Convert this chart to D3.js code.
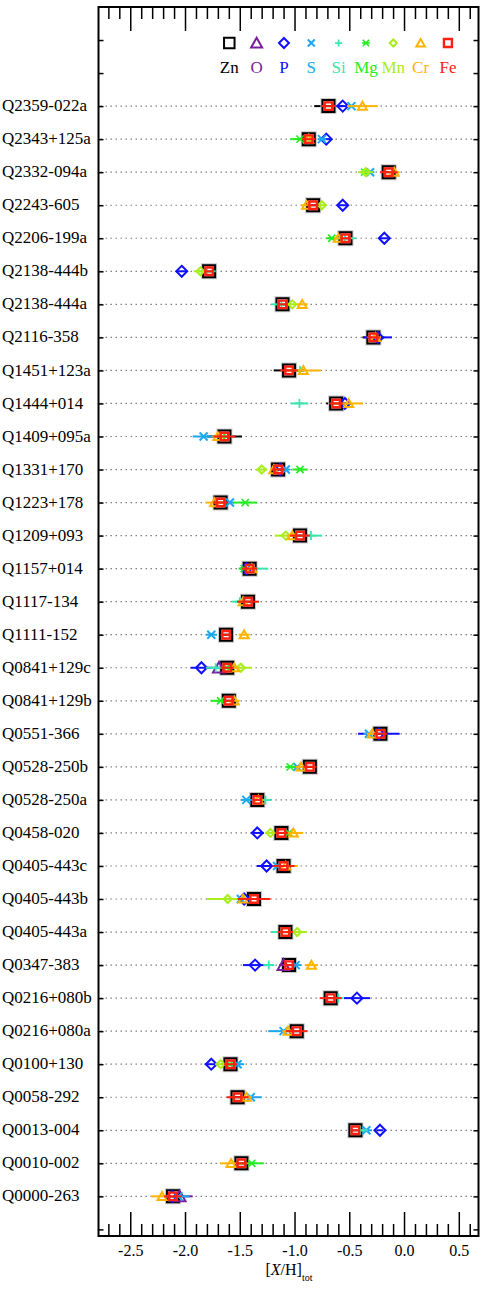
<!DOCTYPE html>
<html>
<head>
<meta charset="utf-8">
<script src="https://cdn.jsdelivr.net/npm/d3@7"></script>
<style>
  body { margin: 0; background: #fff; }
  svg { display: block; font-family: "Liberation Serif", "Times New Roman", serif; }
</style>
</head>
<body>
<div id="chart"></div>
<script>
var _ = null;

var qsos = ["Q2359-022a","Q2343+125a","Q2332-094a","Q2243-605","Q2206-199a","Q2138-444b",
  "Q2138-444a","Q2116-358","Q1451+123a","Q1444+014","Q1409+095a","Q1331+170","Q1223+178",
  "Q1209+093","Q1157+014","Q1117-134","Q1111-152","Q0841+129c","Q0841+129b","Q0551-366",
  "Q0528-250b","Q0528-250a","Q0458-020","Q0405-443c","Q0405-443b","Q0405-443a","Q0347-383",
  "Q0216+080b","Q0216+080a","Q0100+130","Q0058-292","Q0013-004","Q0010-002","Q0000-263"];

var elements = ["Zn","O","P","S","Si","Mg","Mn","Cr","Fe"];
var colors   = ["#000000","#7a1e9e","#1010ff","#1aa8f0","#38e6b0","#22ee22","#a8ee1a","#ffb400","#ff2010"];

var xTicksMajor = [-2.5,-2.0,-1.5,-1.0,-0.5,0.0,0.5];

// [X/H]_tot per sightline (null = not measured)
var zn    = [-0.69,-0.87,-0.14,-0.83,-0.535,-1.78,-1.11,-0.28,-1.05,-0.62,-1.64,-1.15,-1.675,-0.95,-1.41,-1.425,-1.625,
             -1.615,-1.60,-0.216,-0.86,-1.34,-1.12,-1.10,-1.37,-1.083,-1.05,-0.67,-0.98,-1.585,-1.52,-0.444,-1.485,-2.11];
var znErr = [0.13,0.06,0.05,0.06,0.05,0.04,0.05,0.10,0.14,0.09,0.16,0.05,0.05,0.05,0.05,0.05,0.06,
             0.05,0.04,0.05,0.05,0.05,0.05,0.05,0.05,0.05,0.05,0.05,0.05,0.05,0.05,0.05,0.05,0.05];
var fe    = zn.slice();
var feErr = [0.06,0.06,0.08,0.05,0.05,0.04,0.05,0.06,0.08,0.06,0.10,0.06,0.07,0.09,0.07,0.10,0.05,
             0.06,0.05,0.06,0.06,0.04,0.06,0.10,0.15,0.07,0.05,0.10,0.10,0.06,0.10,0.04,0.05,0.08];
var o     = [_,_,_,_,_,_,_,_,_,_,_,_,_,_,_,_,_,-1.69,_,_,_,_,_,_,_,_,-1.10,_,_,_,_,_,_,-2.05];
var oErr  = [_,_,_,_,_,_,_,_,_,_,_,_,_,_,_,_,_,0.05,_,_,_,_,_,_,_,_,0.04,_,_,_,_,_,_,0.12];
var p     = [-0.56,-0.71,_,-0.56,-0.18,-2.03,_,-0.24,_,-0.54,_,-1.13,_,_,-1.44,_,_,-1.85,_,-0.23,
             _,_,-1.34,-1.255,-1.46,_,-1.36,-0.43,_,-1.76,_,-0.22,_,-2.12];
var pErr  = [0.04,0.04,_,0.04,0.04,0.05,_,0.13,_,0.04,_,0.04,_,_,0.03,_,_,0.10,_,0.19,
             _,_,0.06,0.09,0.03,_,0.11,0.12,_,0.06,_,0.03,_,0.05];
var s     = [-0.48,-0.75,-0.31,_,_,_,_,_,_,_,-1.83,-1.08,-1.59,_,_,_,-1.76,_,_,-0.32,
             -0.975,-1.44,_,-1.16,-1.49,_,-0.99,_,-1.10,-1.52,-1.40,-0.344,_,-2.06];
var sErr  = [0.04,0.04,0.04,_,_,_,_,_,_,_,0.10,0.04,0.04,_,_,_,0.05,_,_,0.05,
             0.04,0.05,_,0.03,0.04,_,0.05,_,0.14,0.06,0.10,0.05,_,0.10];
var si    = [_,_,_,_,-0.54,-1.80,-1.12,_,-0.95,-0.955,_,_,_,-0.85,-1.37,-1.50,_,-1.72,_,_,
             _,-1.265,_,_,_,-1.12,-1.235,-0.60,_,_,_,-0.40,_,_];
var siErr = [_,_,_,_,0.10,0.08,0.09,_,0.03,0.08,_,_,_,0.10,0.13,0.07,_,0.09,_,_,
             _,0.05,_,_,_,0.09,0.05,0.04,_,_,_,0.07,_,_];
var mg    = [_,-0.95,-0.36,_,-0.66,_,_,_,_,_,-1.66,-0.95,-1.45,_,-1.46,_,_,-1.62,-1.675,_,
             -1.04,_,-1.05,_,_,_,_,_,_,-1.59,_,_,-1.39,_];
var mgErr = [_,0.09,0.04,_,0.05,_,_,_,_,_,0.04,0.07,0.11,_,0.05,_,_,0.04,0.09,_,
             0.04,_,0.03,_,_,_,_,_,_,0.04,_,_,0.11,_];
var mn    = [_,-0.88,-0.35,-0.75,_,-1.86,-1.02,_,_,_,_,-1.30,_,-1.08,_,_,_,-1.49,_,_,
             _,_,-1.22,_,-1.61,-0.976,_,_,_,-1.675,_,_,_,_];
var mnErr = [_,0.04,0.07,0.04,_,0.06,0.04,_,_,_,_,0.05,_,0.10,_,_,_,0.10,_,_,
             _,_,0.05,_,0.19,0.09,_,_,_,0.05,_,_,_,_];
var cr    = [-0.38,-0.87,-0.09,-0.89,-0.60,_,-0.93,-0.26,-0.92,-0.505,-1.70,-1.19,-1.73,-1.02,-1.39,-1.47,-1.46,
             -1.55,-1.55,-0.29,-0.94,-1.33,-1.01,-1.08,-1.47,_,-0.846,_,-1.06,_,-1.44,_,-1.58,-2.21];
var crErr = [0.14,0.04,0.05,0.05,0.04,_,0.05,0.05,0.16,0.13,0.05,0.03,0.08,0.05,0.04,0.04,0.05,
             0.04,0.05,0.05,0.05,0.04,0.09,0.11,0.04,_,0.06,_,0.05,_,0.05,_,0.10,0.10];

var values = [zn, o, p, s, si, mg, mn, cr, fe];
var errors = [znErr, oErr, pErr, sErr, siErr, mgErr, mnErr, crErr, feErr];

// stroke-drawn marker shapes, size = full width in px
var square = { draw: function(c, w) { var r = w / 2; c.rect(-r, -r, w, w); } };
var triangle = { draw: function(c, w) { var r = w / 2;
  c.moveTo(0, -w * 0.48); c.lineTo(r, w * 0.4); c.lineTo(-r, w * 0.4); c.closePath(); } };
var diamond = { draw: function(c, w) { var r = w / 2;
  c.moveTo(0, -r); c.lineTo(r, 0); c.lineTo(0, r); c.lineTo(-r, 0); c.closePath(); } };
var times = { draw: function(c, w) { var r = w / 2;
  c.moveTo(-r, -r); c.lineTo(r, r); c.moveTo(-r, r); c.lineTo(r, -r); } };
var plus = { draw: function(c, w) { var r = w / 2;
  c.moveTo(-r, 0); c.lineTo(r, 0); c.moveTo(0, -r); c.lineTo(0, r); } };
var aster = { draw: function(c, w) { var r = w / 2, d = r * 0.8;
  c.moveTo(-r, 0); c.lineTo(r, 0);
  c.moveTo(-d, -d); c.lineTo(d, d); c.moveTo(-d, d); c.lineTo(d, -d); } };

var shapes    = [square, triangle, diamond, times, plus, aster, diamond, triangle, square];
var sizes     = [12, 12, 11, 8, 9, 9, 8, 9, 7.5];
var legSizes  = [10.5, 11, 10, 7, 7, 8, 7, 8.5, 8];
var strokes   = [2, 2, 2, 2, 1.8, 1.6, 2, 2, 2.4];

var width = 485, height = 1294;

var svg = d3.select("#chart").append("svg")
    .attr("width", width)
    .attr("height", height);

var x = d3.scaleLinear().domain([-2.79, 0.68]).range([98.5, 478.5]);
var y = d3.scaleLinear().domain([-3, 34.2]).range([7, 1236]);

var x0 = x.range()[0], x1 = x.range()[1], y0 = y.range()[0], y1 = y.range()[1];
var minor = d3.range(-27, 7).map(function(d) { return d / 10; })
    .filter(function(d) { return Math.round(d * 10) % 5 !== 0; });
var fmt = function(d) { return d.toFixed(1); };

// dotted row guides
svg.append("g").selectAll("line")
  .data(qsos)
  .enter().append("line")
    .attr("x1", x0 + 2).attr("x2", x1 - 2)
    .attr("y1", function(d, i) { return y(i); })
    .attr("y2", function(d, i) { return y(i); })
    .attr("stroke", "#808080")
    .attr("stroke-width", 1.2)
    .attr("stroke-dasharray", "1.5,3.5");

// axes
function styleAxis(g) {
  g.attr("font-family", null).attr("font-size", null);
  g.select(".domain").remove();
  g.selectAll("line").attr("stroke", "#000").attr("stroke-width", 1.5);
}

svg.append("g").attr("transform", "translate(0," + y1 + ")")
    .call(d3.axisBottom(x).tickValues(xTicksMajor).tickSize(-24).tickPadding(9).tickFormat(fmt))
    .call(styleAxis)
    .selectAll("text").attr("font-size", 16).attr("fill", "#000");
svg.append("g").attr("transform", "translate(0," + y1 + ")")
    .call(d3.axisBottom(x).tickValues(minor).tickSize(-12).tickFormat(""))
    .call(styleAxis);
svg.append("g").attr("transform", "translate(0," + y0 + ")")
    .call(d3.axisTop(x).tickValues(xTicksMajor).tickSize(-24).tickFormat(""))
    .call(styleAxis);
svg.append("g").attr("transform", "translate(0," + y0 + ")")
    .call(d3.axisTop(x).tickValues(minor).tickSize(-12).tickFormat(""))
    .call(styleAxis);
svg.append("g").attr("transform", "translate(" + x0 + ",0)")
    .call(d3.axisLeft(y).tickValues(d3.range(-2, 35)).tickSize(-5).tickFormat(""))
    .call(styleAxis);
svg.append("g").attr("transform", "translate(" + x1 + ",0)")
    .call(d3.axisRight(y).tickValues(d3.range(-2, 35)).tickSize(-5).tickFormat(""))
    .call(styleAxis);

svg.append("rect")
    .attr("x", x0).attr("y", y0)
    .attr("width", x1 - x0).attr("height", y1 - y0)
    .attr("fill", "none").attr("stroke", "#000").attr("stroke-width", 2);

// row labels
svg.append("g").selectAll("text")
  .data(qsos)
  .enter().append("text")
    .attr("x", 2)
    .attr("y", function(d, i) { return y(i); })
    .attr("dy", "0.3em")
    .attr("font-size", 17)
    .text(function(d) { return d; });

// x axis title
var title = svg.append("text")
    .attr("x", 289).attr("y", 1275)
    .attr("text-anchor", "middle")
    .attr("font-size", 16);
title.append("tspan").text("[");
title.append("tspan").attr("font-style", "italic").text("X");
title.append("tspan").text("/H]");
title.append("tspan").attr("font-size", 10).attr("dy", 6).text("tot");

// data: error bar then marker, element by element
var plot = svg.append("g");
elements.forEach(function(el, k) {
  var rows = values[k].map(function(v, i) { return { i: i, v: v, e: errors[k][i] }; })
      .filter(function(d) { return d.v !== null; });
  var g = plot.append("g").attr("class", "el-" + el);

  g.selectAll("line")
    .data(rows)
    .enter().append("line")
      .attr("x1", function(d) { return x(d.v - d.e); })
      .attr("x2", function(d) { return x(d.v + d.e); })
      .attr("y1", function(d) { return y(d.i); })
      .attr("y2", function(d) { return y(d.i); })
      .attr("stroke", colors[k])
      .attr("stroke-width", 2);

  if (el === "Zn") {
    g.selectAll("path.halo")
      .data(rows)
      .enter().append("path")
        .attr("class", "halo")
        .attr("transform", function(d) { return "translate(" + x(d.v) + "," + y(d.i) + ")"; })
        .attr("d", d3.symbol().type(square).size(sizes[k])())
        .attr("fill", "none").attr("stroke", "#c8c8c8").attr("stroke-width", 4);
  }

  g.selectAll("path.mk")
    .data(rows)
    .enter().append("path")
      .attr("class", "mk")
      .attr("transform", function(d) { return "translate(" + x(d.v) + "," + y(d.i) + ")"; })
      .attr("d", d3.symbol().type(shapes[k]).size(sizes[k])())
      .attr("fill", "none")
      .attr("stroke", colors[k])
      .attr("stroke-width", strokes[k]);
});

// legend
var legX = d3.range(elements.length).map(function(i) { return 229.3 + i * 27.33; });
var legend = svg.append("g");
legend.selectAll("path")
  .data(elements)
  .enter().append("path")
    .attr("transform", function(d, i) { return "translate(" + legX[i] + "," + (y(-2) + 3) + ")"; })
    .attr("d", function(d, i) { return d3.symbol().type(shapes[i]).size(legSizes[i])(); })
    .attr("fill", "none")
    .attr("stroke", function(d, i) { return colors[i]; })
    .attr("stroke-width", function(d, i) { return strokes[i]; });
legend.selectAll("text")
  .data(elements)
  .enter().append("text")
    .attr("x", function(d, i) { return legX[i]; })
    .attr("y", y(-1))
    .attr("text-anchor", "middle")
    .attr("font-size", 17)
    .attr("fill", function(d, i) { return colors[i]; })
    .text(function(d) { return d; });
</script>
</body>
</html>
